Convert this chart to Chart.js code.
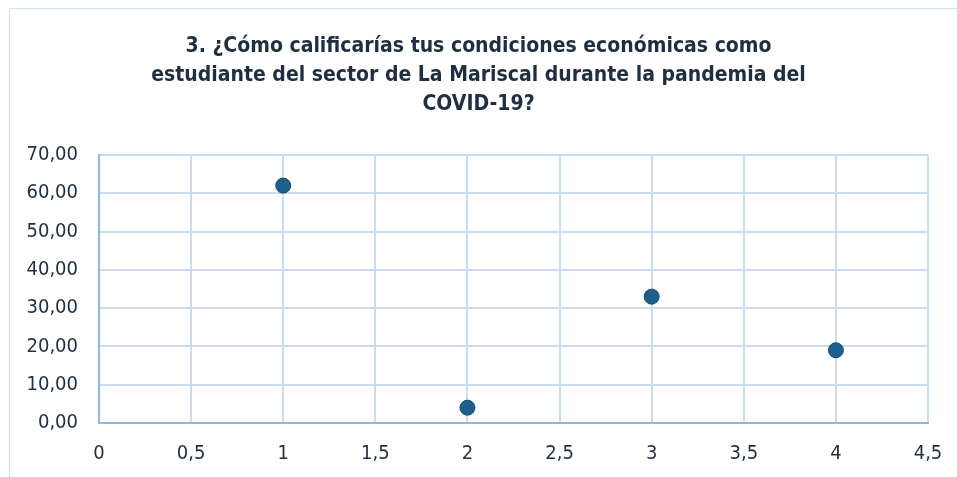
<!DOCTYPE html>
<html>
<head>
<meta charset="utf-8">
<script src="https://cdn.jsdelivr.net/npm/chart.js@4"></script>
<style>
  html, body { margin: 0; padding: 0; background: #fff; }
  #wrap { position: relative; width: 957px; height: 477px; overflow: hidden; }
  #frame { position: absolute; left: 9px; top: 8px; width: 960px; height: 480px;
           border-left: 1px solid #d3e0f0; border-top: 1px solid #d3e0f0; }
  canvas { position: absolute; left: 0; top: 0; }
</style>
</head>
<body>
<div id="wrap">
  <div id="frame"></div>
  <canvas id="chart" width="957" height="477"></canvas>
</div>
<script>
// values
const xValues = [1, 2, 3, 4];
const yValues = [62, 4, 33, 19];
const titleLines = [
  "3. ¿Cómo calificarías tus condiciones económicas como",
  "estudiante del sector de La Mariscal durante la pandemia del",
  "COVID-19?"
];

const textColor = "#1f2e40";
const gridColor = "#c9dcf2";
const axisColor = "#8fb5e0";
const fontFamily = "'DejaVu Sans Condensed', 'DejaVu Sans', sans-serif";

const points = xValues.map((x, i) => ({ x: x, y: yValues[i] }));

new Chart(document.getElementById("chart"), {
  type: "scatter",
  data: {
    datasets: [{
      data: points,
      backgroundColor: "#1f5f8b",
      borderColor: "#174a6e",
      borderWidth: 1,
      pointRadius: 7.5,
      pointHoverRadius: 7.5
    }]
  },
  options: {
    responsive: false,
    animation: false,
    layout: { padding: 0 },
    plugins: {
      legend: { display: false },
      tooltip: { enabled: false },
      title: {
        display: true,
        text: titleLines,
        color: textColor,
        font: { family: fontFamily, size: 21, weight: "bold", lineHeight: 1.38 },
        padding: { top: 32, bottom: 36 }
      }
    },
    scales: {
      x: {
        type: "linear",
        min: 0,
        max: 4.5,
        z: 1,
        ticks: {
          stepSize: 0.5,
          color: textColor,
          padding: 19,
          font: { family: fontFamily, size: 20 },
          callback: v => String(v).replace(".", ",")
        },
        grid: { color: gridColor, lineWidth: 2, drawTicks: false },
        border: { color: axisColor, width: 2 },
        afterFit: s => { s.height = 54; s.paddingLeft = 0; s.paddingRight = 29; }
      },
      y: {
        min: 0,
        max: 70,
        z: 1,
        ticks: {
          stepSize: 10,
          color: textColor,
          padding: 21,
          font: { family: fontFamily, size: 20 },
          callback: v => v.toFixed(2).replace(".", ",")
        },
        grid: { color: gridColor, lineWidth: 2, drawTicks: false },
        border: { color: axisColor, width: 2 },
        afterFit: s => { s.width = 99; }
      }
    }
  }
});
</script>
</body>
</html>
